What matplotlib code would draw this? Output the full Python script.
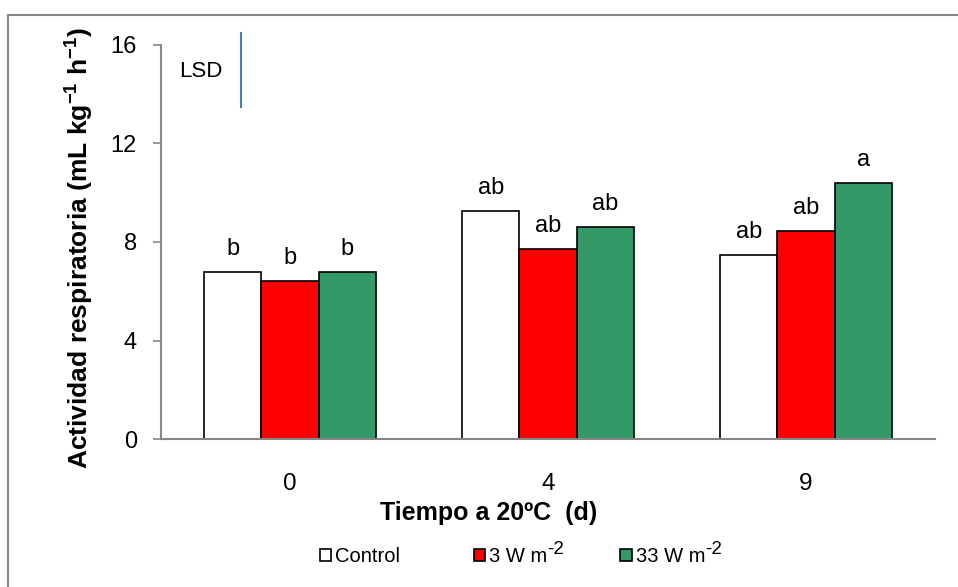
import matplotlib
matplotlib.use("Agg")
import matplotlib.pyplot as plt
from matplotlib.patches import Rectangle, Patch
import numpy as np

plt.rcParams['font.family'] = ['Liberation Sans', 'DejaVu Sans']
plt.rcParams['mathtext.fontset'] = 'custom'
plt.rcParams['mathtext.rm'] = 'Liberation Sans'
plt.rcParams['mathtext.it'] = 'Liberation Sans:italic'
plt.rcParams['mathtext.bf'] = 'Liberation Sans:bold'

# Data
categories = ["0", "4", "9"]
series_names = ["Control", "3 W m", "33 W m"]
series_sups = ["", "-2", "-2"]
control = [6.80, 9.25, 7.46]
w3 = [6.40, 7.70, 8.45]
w33 = [6.80, 8.59, 10.40]
letters_control = ["b", "ab", "ab"]
letters_w3 = ["b", "ab", "ab"]
letters_w33 = ["b", "ab", "a"]
lsd_bottom = 13.46
lsd_value = 3.0

colors = ["#FFFFFF", "#FF0000", "#339966"]
series = [control, w3, w33]
letters = [letters_control, letters_w3, letters_w33]

W, H = 958, 587
fig = plt.figure(figsize=(W / 100, H / 100), dpi=100)
ax = fig.add_axes([161 / W, 1 - 439.3 / H, (935 - 161) / W, (439.3 - 44.7) / H])

x = np.arange(len(categories))
bw = 0.222
for i, (vals, col, labs) in enumerate(zip(series, colors, letters)):
    pos = x + (i - 1) * bw
    ax.bar(pos, vals, width=bw, color=col, edgecolor="black", linewidth=1.2, zorder=3)
    for px, v, lab in zip(pos, vals, labs):
        ax.annotate(lab, (px, v), xytext=(0, 12.3), textcoords="offset points",
                    ha="center", va="baseline", fontsize=17)

ax.set_xlim(-0.5, 2.5)
ax.set_ylim(0, 16)
ax.set_yticks([0, 4, 8, 12, 16])
ax.set_xticks(x)
ax.set_xticklabels(categories)
ax.tick_params(axis="y", direction="out", length=5.8, width=1.2, color="#868686",
               labelsize=17, pad=11.5)
ax.tick_params(axis="x", length=0, labelsize=17.5, pad=24.5)
for s in ["top", "right"]:
    ax.spines[s].set_visible(False)
for s in ["left", "bottom"]:
    ax.spines[s].set_color("#868686")
    ax.spines[s].set_linewidth(1.5)
    ax.spines[s].set_zorder(4)

# Axis titles (positioned as in the reference)
fig.text(489 / W, 1 - 520 / H, "Tiempo a 20ºC  (d)", fontsize=18, fontweight="bold",
         ha="center", va="baseline")
fig.text(64 / W, 1 - 248 / H,
         r"Actividad respiratoria (mL kg$^{\mathbf{-1}}$ h$^{\mathbf{-1}}$)",
         fontsize=19, fontweight="bold", rotation=90, ha="left", va="center")

# LSD bar
ax.plot([-0.191, -0.191], [lsd_bottom, lsd_bottom + lsd_value], color="#4A7EBB",
        linewidth=1.5, clip_on=False, zorder=5)
ax.text(-0.428, lsd_bottom + lsd_value / 2 - 0.05, "LSD", fontsize=16, ha="left", va="center")

handles = [Patch(facecolor=c, edgecolor="black", linewidth=1.2) for c in colors]
leg = fig.legend(handles, series_names, loc="center left",
                 bbox_to_anchor=(320 / W, 1 - 557 / H),
                 ncol=3, frameon=False, fontsize=14.5, handlelength=0.55, handleheight=0.55,
                 handletextpad=0.2, columnspacing=3.65, borderpad=0, borderaxespad=0)

# Figure border
fig.patches.append(Rectangle((8 / W, -0.1), 1.2, (1 - 15 / H) + 0.1, transform=fig.transFigure,
                             fill=False, edgecolor="#868686", linewidth=1.5, zorder=0))

# Full-size raised superscripts in the legend labels
fig.canvas.draw()
for t, sup in zip(leg.get_texts(), series_sups):
    if not sup:
        continue
    bb = t.get_window_extent()
    descent = 0.21 * 14.5 * 100 / 72
    fig.text(bb.x1 / W, (bb.y0 + descent + 8) / H, sup, fontsize=13.5,
             ha="left", va="baseline")

fig.savefig("out.png", dpi=100)
